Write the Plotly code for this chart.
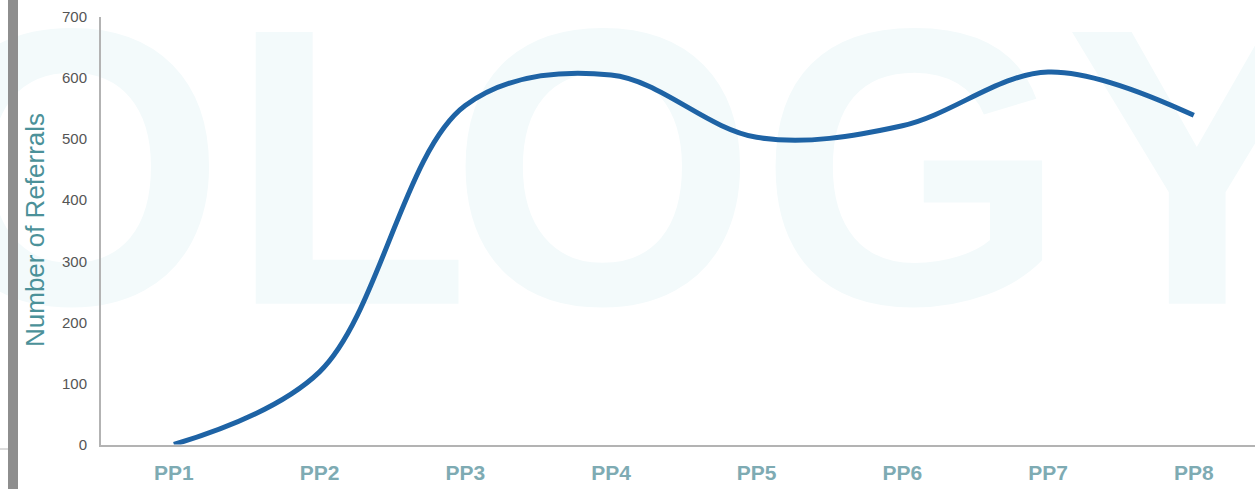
import plotly.graph_objects as go

# Referrals per period
periods = ["PP1", "PP2", "PP3", "PP4", "PP5", "PP6", "PP7", "PP8"]
referrals = [0, 119, 555, 605, 503, 522, 610, 539]

# Y axis ticks
y_ticks = [0, 100, 200, 300, 400, 500, 600, 700]

# Background watermark letters (pixel-space layout axes)
wm_letters = ["O", "L", "O", "G", "Y"]
wm_x = [72, 350, 603, 913, 1197]
wm_y = [205, 205, 205, 205, 205]

W, H = 1255, 489
plot_left, plot_top, plot_bottom = 101, 17, 444.5

fig = go.Figure()

# Watermark drawn first so the data line sits on top of it
fig.add_trace(go.Scatter(
    x=wm_x, y=wm_y, text=wm_letters, mode="text",
    textposition="middle center",
    textfont=dict(family="Liberation Sans, Arial", size=395, color="#f3fafb", weight="bold"),
    cliponaxis=False, hoverinfo="skip", showlegend=False,
    xaxis="x", yaxis="y",
))

fig.add_trace(go.Scatter(
    x=periods, y=referrals, mode="lines",
    line=dict(color="#1e63a5", width=5, shape="spline", smoothing=1),
    showlegend=False, xaxis="x2", yaxis="y2",
))

fig.update_layout(
    width=W, height=H,
    margin=dict(l=0, r=0, t=0, b=0, autoexpand=False),
    paper_bgcolor="white", plot_bgcolor="rgba(0,0,0,0)",
    xaxis=dict(domain=[0, 1], range=[0, W], visible=False, fixedrange=True, automargin=False),
    yaxis=dict(domain=[0, 1], range=[H, 0], visible=False, fixedrange=True, automargin=False),
    xaxis2=dict(
        domain=[plot_left / W, 1], anchor="y2", type="category", automargin=False,
        range=[-0.5, 7.42], showgrid=False, zeroline=False,
        showline=True, linecolor="#b3b3b3", linewidth=2,
        ticks="", ticklabelstandoff=8,
        tickfont=dict(family="Liberation Sans, Arial", size=21, color="#7eabb3", weight="bold"),
    ),
    yaxis2=dict(
        domain=[(H - plot_bottom) / H, (H - plot_top) / H], anchor="x2", automargin=False,
        range=[0, 700], tickvals=y_ticks, showgrid=False, zeroline=False,
        showline=True, linecolor="#b3b3b3", linewidth=2,
        ticks="", ticklabelstandoff=9,
        tickfont=dict(family="Liberation Sans, Arial", size=15, color="#555555"),
    ),
    shapes=[
        dict(type="rect", xref="paper", yref="paper", x0=8 / W, x1=18 / W, y0=0, y1=1,
             fillcolor="#8e8e8e", line=dict(width=0)),
        dict(type="line", xref="paper", yref="paper", x0=0, x1=8 / W,
             y0=(H - 449) / H, y1=(H - 449) / H, line=dict(color="#b8b8b8", width=1)),
    ],
    annotations=[
        dict(text="Number of Referrals", textangle=-90, showarrow=False,
             xref="paper", yref="paper", x=35 / W, y=(H - 230) / H,
             xanchor="center", yanchor="middle",
             font=dict(family="Liberation Sans, Arial", size=26, color="#4b9199")),
    ],
)

fig.write_html("out.html")
